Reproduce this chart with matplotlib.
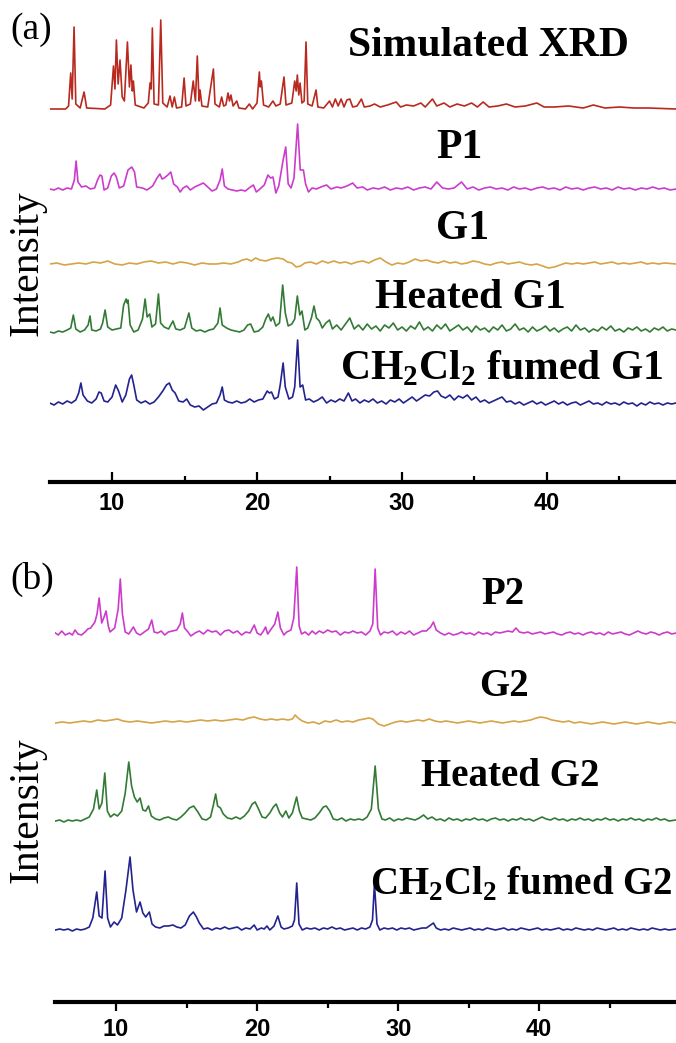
import numpy as np
import matplotlib
matplotlib.use('Agg')
import matplotlib.pyplot as plt
from matplotlib.ticker import MultipleLocator

# XRD traces, (2theta, intensity above own baseline)
sim_xrd = [(5.7,0),(6.8,0),(7.0,3),(7.15,36),(7.25,10),(7.38,82),(7.5,5),(7.8,1),(8.07,17),(8.25,1),
           (9.5,0),(9.9,4),(10.1,43),(10.2,20),(10.3,69),(10.42,25),(10.55,49),(10.7,12),(10.85,8),
           (11.06,67),(11.2,22),(11.3,44),(11.4,18),(11.47,28),(11.6,4),(12.2,1),(12.5,6),(12.62,26),
           (12.7,20),(12.78,81),(12.9,5),(13.2,4),(13.36,89),(13.5,6),(13.8,2),(14.0,13),(14.15,2),
           (14.3,12),(14.45,1),(14.8,2),(14.97,31),(15.1,3),(15.4,5),(15.6,28),(15.75,8),(15.88,53),
           (16.0,8),(16.07,19),(16.2,3),(16.6,2),(16.99,40),(17.1,5),(17.4,2),(17.56,12),(17.7,3),
           (17.85,4),(18.0,16),(18.1,8),(18.2,14),(18.35,3),(18.6,8),(18.75,1),(19.2,0),(19.47,5),
           (19.7,0),(20.0,6),(20.16,37),(20.22,22),(20.3,28),(20.45,4),(20.8,2),(21.1,8),(21.3,3),
           (21.6,5),(21.86,32),(22.0,4),(22.4,6),(22.6,28),(22.7,18),(22.78,34),(22.88,14),(22.97,26),
           (23.1,6),(23.25,8),(23.38,67),(23.5,5),(23.8,3),(24.07,19),(24.2,2),(24.6,1),(25.0,8),
           (25.2,2),(25.4,10),(25.6,3),(25.8,10),(26.0,2),(26.2,9),(26.4,10),(26.6,2),(26.9,3),
           (27.2,10),(27.4,2),(27.8,3),(28.1,5),(28.5,2),(29.0,4),(29.6,7),(29.9,2),(30.3,4),(30.8,3),
           (31.3,6),(31.6,2),(32.1,10),(32.4,3),(32.9,6),(33.3,2),(33.8,5),(34.3,3),(34.8,6),(35.2,2),
           (35.6,7),(36.0,2),(36.6,3),(37.2,5),(37.8,2),(38.5,3),(39.3,6),(39.8,2),(40.5,2),(41.5,3),
           (42.5,1),(43.2,4),(44.0,1),(45.0,2),(46.0,1),(47.0,1),(48.9,0)]

p1 = [(5.7,1),(6.0,0),(6.3,2),(6.6,0),(6.9,2),(7.2,1),(7.4,10),(7.52,29),(7.65,8),(7.9,3),(8.2,4),
      (8.5,1),(8.8,2),(9.0,10),(9.17,15),(9.3,14),(9.45,0),(9.7,2),(9.95,14),(10.14,17),(10.3,13),
      (10.5,2),(10.8,4),(11.1,20),(11.36,23),(11.55,18),(11.7,3),(12.1,2),(12.4,0),(12.8,4),(13.1,12),
      (13.3,16),(13.45,11),(13.6,12),(13.85,15),(14.05,18),(14.25,6),(14.5,3),(14.7,-2),(14.9,2),
      (15.15,4),(15.4,0),(15.7,3),(16.0,5),(16.3,7),(16.6,3),(16.9,-1),(17.2,1),(17.45,10),(17.6,21),
      (17.75,4),(18.0,1),(18.3,0),(18.6,-1),(18.9,0),(19.2,-1),(19.45,2),(19.75,5),(19.95,-2),(20.2,1),
      (20.5,5),(20.75,15),(20.94,12),(21.1,13),(21.3,-3),(21.5,4),(21.8,30),(21.98,43),(22.15,6),
      (22.35,2),(22.55,12),(22.8,66),(22.98,20),(23.2,20),(23.35,6),(23.55,-2),(23.8,2),(24.1,1),
      (24.4,3),(24.8,5),(25.1,1),(25.5,3),(25.8,2),(26.2,4),(26.6,7),(26.9,2),(27.3,3),(27.6,0),
      (28.0,2),(28.4,1),(28.8,3),(29.2,0),(29.6,2),(30.0,1),(30.4,3),(30.8,0),(31.2,2),(31.6,3),
      (32.0,1),(32.4,8),(32.8,2),(33.2,1),(33.6,2),(34.1,8),(34.5,1),(34.9,3),(35.3,0),(35.7,2),
      (36.1,3),(36.5,1),(36.9,2),(37.3,0),(37.7,3),(38.1,1),(38.5,2),(38.9,0),(39.3,2),(39.7,3),
      (40.1,1),(40.5,2),(40.9,0),(41.3,3),(41.7,1),(42.1,2),(42.5,0),(42.9,2),(43.3,3),(43.7,1),
      (44.1,2),(44.5,0),(44.9,3),(45.3,1),(45.7,2),(46.1,0),(46.5,2),(46.9,1),(47.3,3),(47.7,1),
      (48.1,2),(48.5,0),(48.9,1)]

g1 = [(5.7,0),(6.2,1),(6.7,-1),(7.2,0),(7.7,1),(8.2,0),(8.7,2),(9.2,1),(9.7,3),(10.2,0),(10.7,-1),
      (11.2,1),(11.7,0),(12.2,2),(12.7,3),(13.2,1),(13.7,2),(14.2,0),(14.7,2),(15.2,1),(15.7,-1),
      (16.2,1),(16.7,0),(17.2,0),(17.7,1),(18.2,0),(18.7,2),(19.0,4),(19.3,5),(19.6,3),(19.9,6),
      (20.2,4),(20.6,3),(21.0,5),(21.4,6),(21.8,5),(22.1,2),(22.4,1),(22.7,-3),(23.0,-2),(23.3,1),
      (23.7,2),(24.1,0),(24.5,3),(24.9,1),(25.3,3),(25.7,1),(26.1,2),(26.5,0),(26.9,2),(27.3,3),
      (27.7,1),(28.1,4),(28.5,6),(28.9,2),(29.3,-1),(29.7,1),(30.1,0),(30.5,2),(30.9,5),(31.3,3),
      (31.7,4),(32.1,2),(32.5,1),(32.9,3),(33.3,1),(33.7,2),(34.1,0),(34.5,1),(34.9,3),(35.3,2),
      (35.7,0),(36.1,-1),(36.5,1),(36.9,2),(37.3,0),(37.7,1),(38.1,2),(38.5,0),(38.9,-1),(39.3,0),
      (39.7,-2),(40.1,-4),(40.5,-3),(40.9,-1),(41.3,1),(41.7,0),(42.1,1),(42.5,0),(42.9,1),(43.3,2),
      (43.7,0),(44.1,1),(44.5,2),(44.9,0),(45.3,1),(45.7,0),(46.1,1),(46.5,2),(46.9,0),(47.3,1),
      (47.7,0),(48.1,1),(48.9,0)]

heated_g1 = [(5.7,1),(6.0,0),(6.3,2),(6.6,1),(6.9,3),(7.15,5),(7.33,18),(7.5,4),(7.8,1),(8.1,3),
             (8.35,8),(8.48,17),(8.6,3),(8.9,2),(9.2,4),(9.35,10),(9.52,23),(9.7,6),(10.0,3),(10.3,4),
             (10.6,5),(10.8,28),(10.97,34),(11.05,30),(11.1,33),(11.25,8),(11.5,1),(11.8,3),(12.1,14),
             (12.28,34),(12.42,16),(12.6,19),(12.75,6),(13.0,9),(13.2,39),(13.35,10),(13.6,6),(13.9,4),
             (14.2,12),(14.4,4),(14.7,3),(15.0,5),(15.3,20),(15.5,5),(15.8,2),(16.1,3),(16.4,1),(16.7,3),
             (17.0,4),(17.3,10),(17.45,25),(17.6,8),(17.9,5),(18.2,3),(18.5,2),(18.8,1),(19.1,3),
             (19.35,8),(19.56,9),(19.8,1),(20.1,2),(20.4,6),(20.6,14),(20.78,19),(20.95,12),(21.1,16),
             (21.3,7),(21.55,10),(21.77,48),(21.95,20),(22.15,7),(22.4,9),(22.6,14),(22.78,37),
             (22.95,18),(23.1,22),(23.3,3),(23.5,5),(23.75,15),(23.93,27),(24.1,15),(24.3,12),(24.5,5),
             (24.75,10),(25.0,13),(25.2,4),(25.5,8),(25.8,3),(26.1,9),(26.4,15),(26.7,4),(27.0,8),
             (27.3,3),(27.6,9),(27.9,4),(28.2,7),(28.5,2),(28.8,8),(29.1,5),(29.4,10),(29.7,3),(30.0,6),
             (30.3,2),(30.6,7),(30.9,4),(31.2,11),(31.5,3),(31.8,6),(32.1,2),(32.4,8),(32.7,4),(33.0,9),
             (33.3,2),(33.6,5),(33.9,8),(34.2,3),(34.5,6),(34.8,1),(35.1,7),(35.4,3),(35.7,5),(36.0,1),
             (36.3,6),(36.6,3),(36.9,8),(37.2,2),(37.5,4),(37.8,9),(38.1,3),(38.4,5),(38.7,1),(39.0,6),
             (39.3,2),(39.6,4),(39.9,7),(40.2,2),(40.5,5),(40.8,1),(41.1,4),(41.4,6),(41.7,2),(42.0,8),
             (42.3,3),(42.6,5),(42.9,1),(43.2,4),(43.5,2),(43.8,6),(44.1,3),(44.4,7),(44.7,2),(45.0,4),
             (45.3,1),(45.6,5),(45.9,3),(46.2,6),(46.5,2),(46.8,4),(47.1,1),(47.4,5),(47.7,3),(48.0,6),
             (48.3,2),(48.6,4),(48.9,3)]

fumed_g1 = [(5.7,2),(6.0,0),(6.3,3),(6.6,1),(6.9,4),(7.2,2),(7.5,5),(7.7,12),(7.85,22),(8.0,10),
            (8.3,4),(8.6,2),(8.9,6),(9.1,13),(9.25,12),(9.45,4),(9.7,3),(10.0,8),(10.25,20),(10.45,14),
            (10.7,3),(10.95,10),(11.2,26),(11.35,30),(11.5,20),(11.7,5),(12.0,2),(12.3,4),(12.6,1),
            (12.9,3),(13.2,8),(13.5,14),(13.75,20),(13.95,22),(14.15,15),(14.35,12),(14.6,4),(14.9,3),
            (15.15,6),(15.4,0),(15.7,-2),(16.0,-1),(16.3,-5),(16.6,-2),(16.9,1),(17.2,2),(17.45,10),
            (17.6,18),(17.75,5),(18.0,3),(18.3,2),(18.6,4),(18.9,2),(19.2,3),(19.5,6),(19.8,3),(20.1,5),
            (20.4,6),(20.7,14),(20.85,12),(21.0,13),(21.2,6),(21.45,8),(21.6,20),(21.8,42),(21.95,18),
            (22.2,6),(22.45,8),(22.6,18),(22.8,65),(22.97,18),(23.15,20),(23.35,5),(23.6,6),(23.9,3),
            (24.2,5),(24.5,8),(24.8,2),(25.1,5),(25.4,3),(25.7,6),(26.0,4),(26.3,12),(26.55,4),(26.8,6),
            (27.1,2),(27.4,5),(27.7,3),(28.0,6),(28.3,2),(28.6,4),(28.9,1),(29.2,5),(29.5,3),(29.8,6),
            (30.1,2),(30.4,5),(30.7,8),(31.0,4),(31.3,7),(31.6,10),(31.9,9),(32.2,13),(32.45,14),
            (32.7,9),(33.0,7),(33.3,10),(33.6,5),(33.9,9),(34.2,7),(34.5,10),(34.8,5),(35.1,8),(35.4,3),
            (35.7,5),(36.0,2),(36.3,4),(36.6,6),(36.9,8),(37.2,3),(37.5,4),(37.8,1),(38.1,3),(38.4,0),
            (38.7,2),(39.0,4),(39.3,1),(39.6,3),(39.9,0),(40.2,2),(40.5,4),(40.8,1),(41.1,3),(41.4,0),
            (41.7,2),(42.0,3),(42.3,0),(42.6,2),(42.9,4),(43.2,1),(43.5,2),(43.8,0),(44.1,3),(44.4,1),
            (44.7,2),(45.0,0),(45.3,3),(45.6,1),(45.9,2),(46.2,-1),(46.5,2),(46.8,0),(47.1,3),(47.4,1),
            (47.7,2),(48.0,0),(48.3,2),(48.6,1),(48.9,2)]

p2 = [(5.7,1),(5.9,-1),(6.15,3),(6.4,-1),(6.7,1),(6.9,-1),(7.09,4),(7.3,0),(7.55,-1),(7.8,2),(8.0,5),
      (8.2,6),(8.5,12),(8.65,20),(8.8,36),(8.98,11),(9.15,17),(9.29,23),(9.45,8),(9.57,2),(9.9,6),
      (10.15,25),(10.3,55),(10.45,20),(10.65,2),(10.9,0),(11.23,7),(11.45,1),(11.7,-1),(12.0,2),
      (12.3,5),(12.53,14),(12.7,2),(12.95,1),(13.2,3),(13.45,-1),(13.7,2),(14.0,3),(14.3,4),(14.55,10),
      (14.7,21),(14.85,6),(15.1,2),(15.3,-2),(15.6,1),(15.9,3),(16.2,0),(16.5,4),(16.8,2),(17.1,3),
      (17.4,-1),(17.7,3),(18.0,4),(18.3,1),(18.6,3),(18.9,-1),(19.2,2),(19.5,1),(19.8,9),(20.0,1),
      (20.25,-1),(20.45,3),(20.6,7),(20.75,0),(21.0,5),(21.25,10),(21.47,22),(21.65,6),(21.9,-1),
      (22.1,2),(22.4,4),(22.6,16),(22.81,67),(22.98,8),(23.15,0),(23.4,2),(23.65,-1),(23.9,3),
      (24.15,0),(24.4,3),(24.7,1),(25.0,4),(25.3,2),(25.6,3),(25.9,-1),(26.2,2),(26.5,1),(26.8,3),
      (27.1,1),(27.4,2),(27.7,-1),(28.0,3),(28.2,10),(28.37,65),(28.55,6),(28.75,-1),(29.0,2),
      (29.3,1),(29.6,3),(29.9,-1),(30.2,2),(30.5,0),(30.8,3),(31.1,-1),(31.4,1),(31.7,3),(32.0,3),
      (32.3,7),(32.5,12),(32.7,4),(33.0,1),(33.3,-1),(33.6,1),(33.9,-1),(34.2,0),(34.5,2),(34.8,0),
      (35.1,1),(35.4,-1),(35.7,2),(36.0,0),(36.3,1),(36.6,-1),(36.9,2),(37.2,1),(37.5,2),(37.8,3),
      (38.1,2),(38.35,6),(38.6,2),(38.9,1),(39.2,2),(39.5,0),(39.8,1),(40.1,2),(40.4,0),(40.7,1),
      (41.0,2),(41.3,0),(41.6,-1),(41.9,1),(42.2,2),(42.5,0),(42.8,1),(43.1,-1),(43.4,1),(43.7,2),
      (44.0,0),(44.3,1),(44.6,-1),(44.9,2),(45.2,0),(45.5,1),(45.8,2),(46.1,0),(46.4,-1),(46.7,1),
      (47.0,3),(47.3,1),(47.6,0),(47.9,2),(48.2,1),(48.5,-1),(48.8,1),(49.1,2),(49.4,0),(49.7,1)]

g2 = [(5.7,0),(6.2,1),(6.7,0),(7.2,1),(7.7,2),(8.2,1),(8.7,3),(9.2,2),(9.7,3),(10.1,4),(10.5,2),
      (11.0,1),(11.5,2),(12.0,1),(12.5,0),(13.0,1),(13.5,2),(14.0,1),(14.5,2),(15.0,1),(15.5,2),
      (16.0,3),(16.5,2),(17.0,3),(17.5,2),(18.0,3),(18.5,4),(19.0,3),(19.4,5),(19.8,6),(20.2,4),
      (20.6,3),(21.0,4),(21.4,3),(21.8,4),(22.2,3),(22.5,4),(22.7,8),(22.9,5),(23.2,2),(23.6,0),
      (24.0,1),(24.4,-1),(24.8,2),(25.2,1),(25.6,3),(26.0,1),(26.4,2),(26.8,1),(27.2,3),(27.6,4),
      (27.9,5),(28.2,4),(28.6,-1),(29.0,-3),(29.4,-1),(29.8,1),(30.2,2),(30.6,1),(31.0,2),(31.4,3),
      (31.8,2),(32.2,4),(32.6,2),(33.0,1),(33.4,2),(33.8,1),(34.2,0),(34.6,1),(35.0,2),(35.4,1),
      (35.8,0),(36.2,1),(36.6,2),(37.0,1),(37.4,0),(37.8,1),(38.2,2),(38.6,1),(39.0,2),(39.4,3),
      (39.8,5),(40.1,6),(40.5,5),(40.9,3),(41.3,2),(41.7,1),(42.1,2),(42.5,0),(42.9,1),(43.3,0),
      (43.7,-1),(44.1,0),(44.5,1),(44.9,0),(45.3,-1),(45.7,0),(46.1,1),(46.5,0),(46.9,-1),(47.3,0),
      (47.7,1),(48.1,0),(48.5,-1),(48.9,0),(49.3,1),(49.7,0)]

heated_g2 = [(5.7,0),(6.0,1),(6.3,-1),(6.6,1),(6.9,0),(7.2,1),(7.5,0),(7.8,2),(8.1,4),(8.4,12),
             (8.63,31),(8.8,12),(9.0,18),(9.2,48),(9.38,10),(9.6,4),(9.86,7),(10.1,5),(10.4,10),
             (10.65,28),(10.9,59),(11.1,35),(11.3,24),(11.5,19),(11.7,23),(11.9,11),(12.1,10),(12.3,15),
             (12.5,5),(12.8,2),(13.1,1),(13.4,3),(13.7,4),(14.0,2),(14.3,1),(14.6,4),(14.9,8),(15.2,13),
             (15.5,15),(15.8,9),(16.1,2),(16.4,1),(16.7,4),(16.9,16),(17.06,27),(17.2,15),(17.4,13),
             (17.6,7),(17.9,3),(18.2,2),(18.5,4),(18.8,2),(19.1,5),(19.4,10),(19.65,17),(19.86,19),
             (20.1,12),(20.35,4),(20.6,3),(20.9,8),(21.15,14),(21.35,17),(21.6,8),(21.8,4),(22.04,10),
             (22.25,3),(22.5,8),(22.8,24),(23.0,10),(23.2,3),(23.5,2),(23.8,1),(24.1,3),(24.4,8),
             (24.7,14),(24.9,15),(25.15,10),(25.4,2),(25.7,1),(26.0,3),(26.3,0),(26.6,2),(26.9,1),
             (27.2,2),(27.5,1),(27.8,4),(28.1,12),(28.37,55),(28.6,12),(28.85,2),(29.1,1),(29.4,3),
             (29.7,0),(30.0,2),(30.3,1),(30.6,3),(30.9,2),(31.2,1),(31.5,3),(31.8,6),(32.1,2),(32.4,4),
             (32.7,1),(33.0,2),(33.3,0),(33.6,3),(33.9,1),(34.2,2),(34.5,0),(34.8,2),(35.1,1),(35.4,3),
             (35.7,1),(36.0,2),(36.3,0),(36.6,2),(36.9,3),(37.2,1),(37.5,2),(37.8,0),(38.1,2),(38.4,1),
             (38.7,3),(39.0,1),(39.3,2),(39.6,0),(39.9,2),(40.2,4),(40.5,2),(40.8,1),(41.1,3),(41.4,1),
             (41.7,2),(42.0,0),(42.3,2),(42.6,1),(42.9,3),(43.2,1),(43.5,2),(43.8,0),(44.1,2),(44.4,1),
             (44.7,3),(45.0,1),(45.3,2),(45.6,0),(45.9,2),(46.2,1),(46.5,3),(46.8,1),(47.1,2),(47.4,0),
             (47.7,2),(48.0,1),(48.3,3),(48.6,1),(48.9,2),(49.2,0),(49.7,1)]

fumed_g2 = [(5.7,0),(6.0,1),(6.3,0),(6.6,1),(6.9,-1),(7.2,1),(7.5,0),(7.8,1),(8.1,3),(8.35,12),
            (8.63,38),(8.8,14),(9.0,12),(9.22,59),(9.4,12),(9.6,3),(9.86,8),(10.1,5),(10.4,12),
            (10.7,40),(10.99,73),(11.2,40),(11.45,18),(11.7,28),(11.9,17),(12.1,13),(12.36,18),(12.55,6),
            (12.8,3),(13.1,2),(13.4,4),(13.7,4),(14.04,5),(14.3,3),(14.6,2),(14.9,5),(15.2,14),(15.48,18),
            (15.7,13),(15.9,7),(16.2,1),(16.5,2),(16.8,0),(17.1,2),(17.4,1),(17.7,3),(18.0,1),(18.3,2),
            (18.6,3),(18.9,0),(19.2,2),(19.5,1),(19.79,5),(20.0,0),(20.3,2),(20.5,1),(20.7,4),(20.9,0),
            (21.2,4),(21.47,14),(21.7,3),(21.9,1),(22.2,2),(22.5,4),(22.65,10),(22.81,47),(22.97,6),
            (23.2,0),(23.5,2),(23.8,1),(24.1,2),(24.4,0),(24.7,2),(25.0,1),(25.3,3),(25.6,1),(25.9,2),
            (26.2,0),(26.5,1),(26.8,2),(27.1,0),(27.4,2),(27.7,1),(28.0,3),(28.18,10),(28.32,46),
            (28.5,6),(28.7,0),(29.0,2),(29.3,1),(29.6,2),(29.9,0),(30.2,2),(30.5,1),(30.8,2),(31.1,0),
            (31.4,1),(31.7,2),(32.0,2),(32.3,5),(32.5,7),(32.7,2),(33.0,0),(33.3,1),(33.6,0),(33.9,2),
            (34.2,1),(34.5,0),(34.8,1),(35.1,2),(35.4,0),(35.7,1),(36.0,0),(36.3,2),(36.6,1),(36.9,0),
            (37.2,1),(37.5,2),(37.8,0),(38.1,1),(38.4,0),(38.7,2),(39.0,1),(39.3,0),(39.6,1),(39.9,2),
            (40.2,0),(40.5,1),(40.8,0),(41.1,1),(41.4,2),(41.7,0),(42.0,1),(42.3,0),(42.6,2),(42.9,1),
            (43.2,0),(43.5,1),(43.8,0),(44.1,2),(44.4,1),(44.7,0),(45.0,1),(45.3,2),(45.6,0),(45.9,1),
            (46.2,0),(46.5,2),(46.8,1),(47.1,0),(47.4,1),(47.7,0),(48.0,2),(48.3,1),(48.6,0),(48.9,1),
            (49.2,0),(49.7,1)]

# stacking offsets (same units as intensity)
offsets_a = [373, 292, 218, 149, 77]
offsets_b = [368, 279, 181, 72]

names_a = ['Simulated XRD', 'P1', 'G1', 'Heated G1', r'CH$_\mathbf{2}$Cl$_\mathbf{2}$ fumed G1']
names_b = ['P2', 'G2', 'Heated G2', r'CH$_\mathbf{2}$Cl$_\mathbf{2}$ fumed G2']

c_red = '#b8291f'
c_mag = '#cc3ccc'
c_org = '#d6a346'
c_grn = '#337a35'
c_blu = '#23238f'

W, H = 676, 1043
plt.rcParams['font.family'] = 'Liberation Sans'
plt.rcParams['font.weight'] = 'bold'
plt.rcParams['mathtext.fontset'] = 'custom'
plt.rcParams['mathtext.rm'] = 'Liberation Serif'
plt.rcParams['mathtext.bf'] = 'Liberation Serif:bold'

fig = plt.figure(figsize=(W / 100, H / 100), dpi=100)


def px_ax(x0, x1, y_axis, y_top):
    return fig.add_axes([x0 / W, 1 - y_axis / H, (x1 - x0) / W, (y_axis - y_top) / H])


def style_axis(ax, direction, major_len, minor_len, pad):
    for s in ['left', 'right', 'top']:
        ax.spines[s].set_visible(False)
    ax.spines['bottom'].set_linewidth(3)
    ax.set_yticks([])
    ax.xaxis.set_major_locator(MultipleLocator(10))
    ax.xaxis.set_minor_locator(MultipleLocator(5))
    ax.tick_params(axis='x', which='major', direction=direction, length=major_len, width=1.6,
                   pad=pad, labelsize=17)
    ax.tick_params(axis='x', which='minor', direction=direction, length=minor_len, width=1.6)
    ax.patch.set_alpha(0)


def draw(ax, trace, off, color):
    arr = np.array(trace, dtype=float)
    ax.plot(arr[:, 0], arr[:, 1] + off, color=color, lw=1.2)


# panel (a)
ax1 = px_ax(50, 676, 482, 0)
ax1.set_xlim(5.72, 48.9)
ax1.set_ylim(0, 482)
for tr, off, col in zip([sim_xrd, p1, g1, heated_g1, fumed_g1], offsets_a,
                        [c_red, c_mag, c_org, c_grn, c_blu]):
    draw(ax1, tr, off, col)
style_axis(ax1, 'in', 7.5, 4, 7)

# panel (b)
ax2 = px_ax(55, 676, 1002, 540)
ax2.set_xlim(5.67, 49.7)
ax2.set_ylim(0, 462)
for tr, off, col in zip([p2, g2, heated_g2, fumed_g2], offsets_b,
                        [c_mag, c_org, c_grn, c_blu]):
    draw(ax2, tr, off, col)
style_axis(ax2, 'out', 6.5, 4.5, 5)

serif = 'Liberation Serif'


def ftext(x, y, s, **kw):
    fig.text(x / W, 1 - y / H, s, ha='center', va='center', family=serif, **kw)


# series labels
label_pos_a = [(488, 46), (459, 148), (463, 229), (470, 298), (502, 368)]
for (x, y), s in zip(label_pos_a, names_a):
    ftext(x, y, s, fontsize=30, fontweight='bold')
label_pos_b = [(503, 594), (504, 686), (510, 777), (521, 885)]
for (x, y), s in zip(label_pos_b, names_b):
    ftext(x, y, s, fontsize=28, fontweight='bold')

ftext(31, 30, '(a)', fontsize=27, fontweight='normal')
ftext(32, 579, '(b)', fontsize=27, fontweight='normal')
ftext(27, 263, 'Intensity', fontsize=30, rotation=90, fontweight='normal')
ftext(27, 810, 'Intensity', fontsize=30, rotation=90, fontweight='normal')

fig.savefig('out.png', dpi=100)
